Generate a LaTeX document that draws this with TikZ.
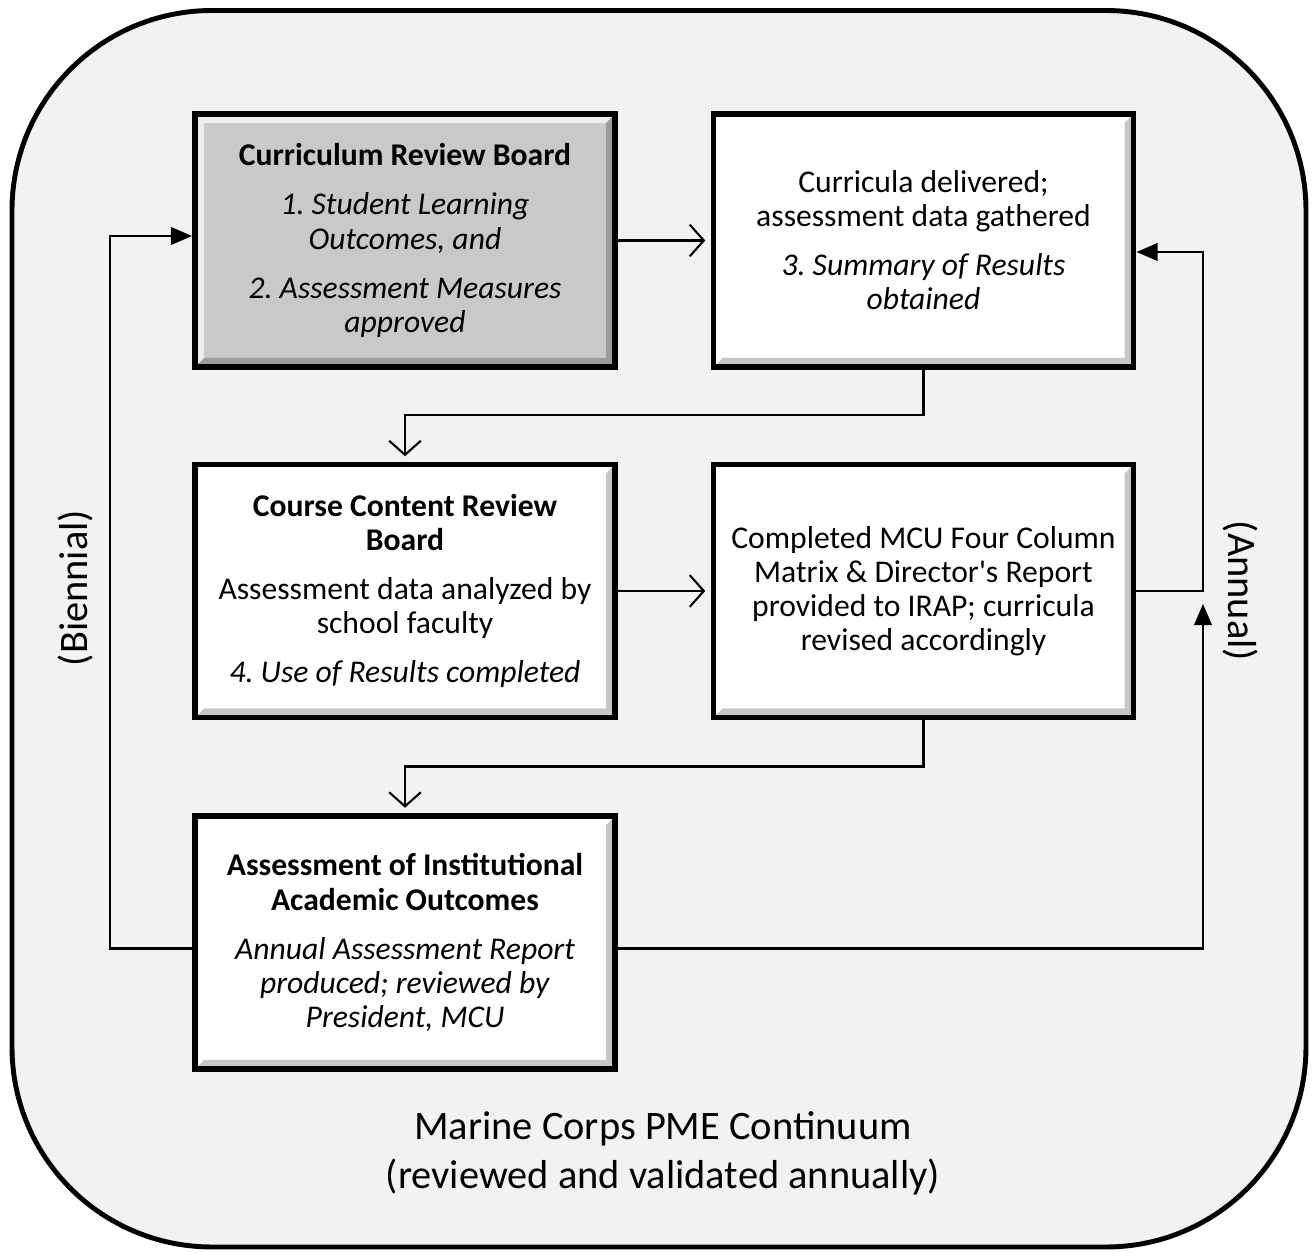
\documentclass[tikz,border=0pt]{standalone}
\usepackage{fontspec}
\setmainfont{Carlito}
\usetikzlibrary{arrows.meta}
\definecolor{myframecolor}{HTML}{F2F2F2}
\definecolor{myboardcolor}{HTML}{C9C9C9}
\frenchspacing

\tikzset{
  stepbox/.style={draw, line width=1.7pt, rectangle, minimum width=4.2cm, minimum height=2.53cm,
    align=center, inner sep=0pt, font=\fontsize{9pt}{9.7pt}\selectfont,
    path picture={%
      \fill[black, opacity=0.22] (path picture bounding box.south west) -- (path picture bounding box.south east)
        -- (path picture bounding box.north east) -- ([shift={(-0.09,-0.09)}]path picture bounding box.north east)
        -- ([shift={(-0.09,0.09)}]path picture bounding box.south east) -- ([shift={(0.09,0.09)}]path picture bounding box.south west) -- cycle;
      \fill[white, opacity=0.7] (path picture bounding box.south west) -- (path picture bounding box.north west)
        -- (path picture bounding box.north east) -- ([shift={(-0.09,-0.09)}]path picture bounding box.north east)
        -- ([shift={(0.09,-0.09)}]path picture bounding box.north west) -- ([shift={(0.09,0.09)}]path picture bounding box.south west) -- cycle;
    }},
  openarrow/.style={-{Straight Barb[length=4pt,width=9pt]}, line width=0.6pt, shorten >=1.5pt},
  backarrow/.style={-{Triangle[length=6pt,width=5pt]}, line width=0.6pt},
  sidelabel/.style={font=\fontsize{11.5pt}{14pt}\selectfont},
}

\begin{document}
\begin{tikzpicture}%
\useasboundingbox (0,0) rectangle (13.12,-12.53);%
% outer frame
\draw[line width=1.4pt, fill=myframecolor, rounded corners=2cm] (0.12,-0.105) rectangle (13.06,-12.47);%
% boxes
\node[stepbox, fill=myboardcolor] (crb) at (4.05,-2.405) {\textbf{Curriculum Review Board}\\[0.15cm] \textit{1. Student Learning}\\ \textit{Outcomes, and}\\[0.15cm] \textit{2. Assessment Measures}\\ \textit{approved}};%
\node[stepbox, fill=white] (deliv) at (9.235,-2.405) {Curricula delivered;\\ assessment data gathered\\[0.15cm] \textit{3. Summary of Results}\\ \textit{obtained}};%
\node[stepbox, fill=white] (review) at (4.05,-5.91) {\textbf{Course Content Review}\\ \textbf{Board}\\[0.15cm] Assessment data analyzed by\\ school faculty\\[0.15cm] \textit{4. Use of Results completed}};%
\node[stepbox, fill=white] (matrix) at (9.235,-5.91) {Completed MCU Four Column\\ Matrix \& Director\textquotesingle s Report\\ provided to IRAP; curricula\\ revised accordingly};%
\node[stepbox, fill=white] (outcome) at (4.05,-9.425) {\textbf{Assessment of Institutional}\\ \textbf{Academic Outcomes}\\[0.15cm] \textit{Annual Assessment Report}\\ \textit{produced; reviewed by}\\ \textit{President, MCU}};%
% forward connectors
\draw[openarrow] (crb.east) -- (deliv.west);%
\draw[openarrow] (deliv.south) -- ++(0,-0.45) -| (review.north);%
\draw[openarrow] (review.east) -- (matrix.west);%
\draw[openarrow] (matrix.south) -- ++(0,-0.46) -| (outcome.north);%
% feedback loops
\coordinate (annualtop) at (12.03,-2.52);%
\coordinate (annualup) at (12.03,-6.04);%
\coordinate (biennial) at (1.10,-2.36);%
\draw[backarrow] (matrix.east) -| (annualtop) -- (deliv.east |- annualtop);%
\draw[backarrow] ([yshift=-0.06cm]outcome.east) -| (annualup);%
\draw[backarrow] ([yshift=-0.06cm]outcome.west) -| (biennial) -- (crb.west |- biennial);%
% labels
\node[sidelabel, rotate=90] (bienniallabel) at (0.76,-5.88) {(Biennial)};%
\node[sidelabel, rotate=-90] (annuallabel) at (12.40,-5.91) {(Annual)};%
\node[sidelabel, align=center] (continuum) at (6.63,-11.53) {Marine Corps PME Continuum\\ (reviewed and validated annually)};%
\end{tikzpicture}
\end{document}
